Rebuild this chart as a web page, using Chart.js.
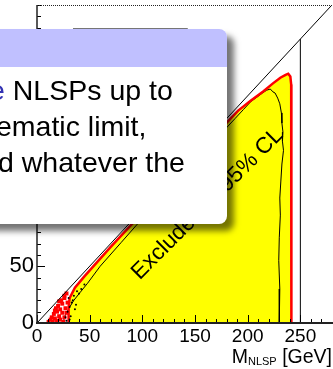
<!DOCTYPE html>
<html>
<head>
<meta charset="utf-8">
<script src="https://cdn.jsdelivr.net/npm/chart.js@4.4.1/dist/chart.umd.min.js"></script>
<style>
  html, body { margin: 0; padding: 0; background: #fff; overflow: hidden; }
  #wrap { position: relative; width: 333px; height: 369px; overflow: hidden; font-family: 'Liberation Sans', Arial, sans-serif; }
  #plot { position: absolute; left: 0; top: 0; }
  #xtitle { position: absolute; right: 1px; top: 346px; font-size: 19.5px; line-height: 20px; white-space: nowrap; color: #000; }
  #xtitle span { font-size: 11px; position: relative; top: 2px; }
  .block { position: absolute; left: -30px; top: 29px; width: 257px; height: 195px; border-radius: 8px; background: #fff; box-shadow: 7px 7px 6px rgba(0,0,0,0.55); overflow: hidden; }
  .block .head { height: 38px; background: #c0c0ff; }
  .block .line { position: absolute; white-space: nowrap; font-size: 28.5px; line-height: 36px; color: #000; }
  .alert { color: #3333b3; }
</style>
</head>
<body>
<div id="wrap">
  <canvas id="plot" width="333" height="369"></canvas>
  <div id="xtitle">M<span>NLSP</span> [GeV]</div>
  <div class="block">
    <div class="head"></div>
    <div class="line" style="left:19px; top:43px;"><span class="alert">e</span> NLSPs up to</div>
    <div class="line" style="left:26px; top:79px;">ematic limit,</div>
    <div class="line" style="left:28px; top:115px;">d whatever the</div>
  </div>
</div>
<script>
// tick labels
const xTickLabels = [0, 50, 100, 150, 200, 250];
const yTickLabels = [0, 50, 100, 150, 200, 250];

// edge of the excluded region (red), GeV
const boundaryX = [30, 30, 31, 36, 45, 70, 100, 130, 160, 191, 202.5, 215, 224, 231, 236, 238.5, 240.5, 241.3, 241.5, 241.5];
const boundaryY = [0, 14, 22, 31, 41, 67, 97, 127, 157, 187, 195.5, 204, 211, 216, 218.5, 219.5, 217, 210, 195, 0];

// observed contour (black, wavy)
const contourX = [25, 26, 28, 31, 35, 41, 48, 60, 80, 100, 130, 160, 188, 196, 203, 209, 214, 218, 221.5, 224, 226, 228.5, 230.5, 232, 232.5, 233.5, 233, 234, 232.5, 231.5, 230.5, 231, 230, 229.5, 230.5, 230];
const contourY = [0, 5, 9, 14, 20, 27, 35, 50, 71, 92, 122, 152, 180, 188, 195, 199, 202.5, 205, 206, 203.5, 202.5, 198, 193, 185, 176, 168, 160, 152, 140, 125, 110, 95, 75, 55, 30, 0];

// scattered cells near the low mass corner
const redSpotX = [11, 13, 15, 17, 19, 21, 16, 19, 22, 20, 24, 23, 26, 26, 28, 27, 24, 22, 26, 18, 21, 25, 28, 29, 14, 17];
const redSpotY = [1, 3, 1, 4, 2, 6, 8, 10, 12, 15, 17, 20, 22, 24, 26, 13, 9, 3, 5, 13, 19, 1, 9, 18, 5, 11];
const blackSpotX = [27, 29, 31, 33, 30, 35, 38, 42, 45, 36, 32, 40, 28, 34, 37, 31];
const blackSpotY = [5, 10, 14, 18, 22, 24, 28, 30, 34, 12, 6, 26, 2, 20, 16, 3];

// kinematic limit and beam energy limit
const diagX = [0, 280];
const diagY = [0, 280];
const limitX = [250, 250];
const limitY = [0, 250];

const labelText = 'Excluded at 95% CL';
const labelPos = [97.5, 37.5];

Chart.defaults.font.family = "'Liberation Sans', Arial, sans-serif";
Chart.defaults.color = '#000';

function toPoints(xs, ys) {
    return xs.map((x, i) => ({ x: x, y: ys[i] }));
}

const framePlugin = {
    id: 'frame',
    afterDatasetsDraw(chart) {
        const { ctx, chartArea } = chart;
        const xScale = chart.scales.x;
        const yScale = chart.scales.y;
        ctx.save();

        // rotated label inside the region
        ctx.save();
        ctx.translate(xScale.getPixelForValue(labelPos[0]), yScale.getPixelForValue(labelPos[1]));
        ctx.rotate(-45 * Math.PI / 180);
        ctx.font = "22.5px 'Liberation Sans', Arial, sans-serif";
        ctx.fillStyle = '#000';
        ctx.textBaseline = 'alphabetic';
        ctx.fillText(labelText, 0, 0);
        ctx.restore();

        // legend box edge (mostly hidden)
        ctx.strokeStyle = '#777';
        ctx.lineWidth = 1;
        ctx.strokeRect(Math.round(xScale.getPixelForValue(34)) + 0.5, Math.round(yScale.getPixelForValue(260)) + 0.5,
            xScale.getPixelForValue(142) - xScale.getPixelForValue(34), 60);

        // inward ticks
        ctx.strokeStyle = '#000';
        ctx.lineWidth = 1;
        xScale.ticks.forEach(t => {
            if (t.value % 10 !== 0) return;
            const px = Math.round(xScale.getPixelForValue(t.value)) + 0.5;
            const len = t.value % 50 === 0 ? 8 : 4;
            ctx.beginPath();
            ctx.moveTo(px, chartArea.bottom);
            ctx.lineTo(px, chartArea.bottom - len);
            ctx.stroke();
        });
        yScale.ticks.forEach(t => {
            if (t.value % 10 !== 0) return;
            const py = Math.round(yScale.getPixelForValue(t.value)) + 0.5;
            const len = t.value % 50 === 0 ? 8 : 4;
            ctx.beginPath();
            ctx.moveTo(chartArea.left, py);
            ctx.lineTo(chartArea.left + len, py);
            ctx.stroke();
        });

        // frame
        ctx.setLineDash([1, 1]);
        ctx.strokeStyle = '#222';
        ctx.beginPath();
        ctx.moveTo(chartArea.left, chartArea.top + 0.5);
        ctx.lineTo(chartArea.right, chartArea.top + 0.5);
        ctx.stroke();
        ctx.setLineDash([]);

        ctx.lineWidth = 1.5;
        ctx.beginPath();
        ctx.moveTo(chartArea.left, chartArea.top);
        ctx.lineTo(chartArea.left, chartArea.bottom);
        ctx.stroke();
        ctx.lineWidth = 2;
        ctx.beginPath();
        ctx.moveTo(chartArea.left - 1, chartArea.bottom);
        ctx.lineTo(chartArea.right, chartArea.bottom);
        ctx.stroke();
        ctx.restore();
    }
};

new Chart(document.getElementById('plot'), {
    type: 'line',
    data: {
        datasets: [
            { label: 'excluded', data: toPoints(boundaryX, boundaryY), backgroundColor: '#ffff00', borderColor: 'rgba(0,0,0,0)', borderWidth: 0, fill: 'origin', pointRadius: 0, order: 6 },
            { label: 'observed', data: toPoints(contourX, contourY), borderColor: '#000', borderWidth: 1, fill: false, pointRadius: 0, order: 5 },
            { label: 'edge', data: toPoints(boundaryX, boundaryY), borderColor: '#ff0000', borderWidth: 2.5, fill: false, pointRadius: 0, order: 4 },
            { label: 'red cells', data: toPoints(redSpotX, redSpotY), showLine: false, pointStyle: 'rect', pointRadius: 2.8, backgroundColor: '#ff0000', borderWidth: 0, order: 3 },
            { label: 'black cells', data: toPoints(blackSpotX, blackSpotY), showLine: false, pointRadius: 1, backgroundColor: '#000', borderWidth: 0, order: 2 },
            { label: 'kinematic', data: toPoints(diagX, diagY), borderColor: '#000', borderWidth: 1, fill: false, pointRadius: 0, order: 1 },
            { label: 'beam', data: toPoints(limitX, limitY), borderColor: '#000', borderWidth: 1, fill: false, pointRadius: 0, order: 1 }
        ]
    },
    options: {
        responsive: false,
        animation: false,
        events: [],
        layout: { autoPadding: false, padding: { top: 5, left: 0, right: 0, bottom: 0 } },
        plugins: { legend: { display: false }, tooltip: { enabled: false } },
        scales: {
            x: {
                type: 'linear', min: 0, max: 281,
                grid: { display: false, drawTicks: false },
                border: { display: false },
                ticks: {
                    stepSize: 10, autoSkip: false, maxRotation: 0, padding: 2,
                    font: { size: 19 },
                    callback: v => xTickLabels.includes(v) ? String(v) : ''
                },
                afterFit(scale) { scale.height = 46; scale.paddingLeft = 0; scale.paddingRight = 0; }
            },
            y: {
                type: 'linear', min: 0, max: 280,
                grid: { display: false, drawTicks: false },
                border: { display: false },
                ticks: {
                    stepSize: 10, autoSkip: false, padding: 3,
                    font: { size: 22 },
                    callback: v => yTickLabels.includes(v) ? String(v) : ''
                },
                afterFit(scale) { scale.width = 37; scale.paddingTop = 0; scale.paddingBottom = 0; }
            }
        }
    },
    plugins: [framePlugin]
});
</script>
</body>
</html>
